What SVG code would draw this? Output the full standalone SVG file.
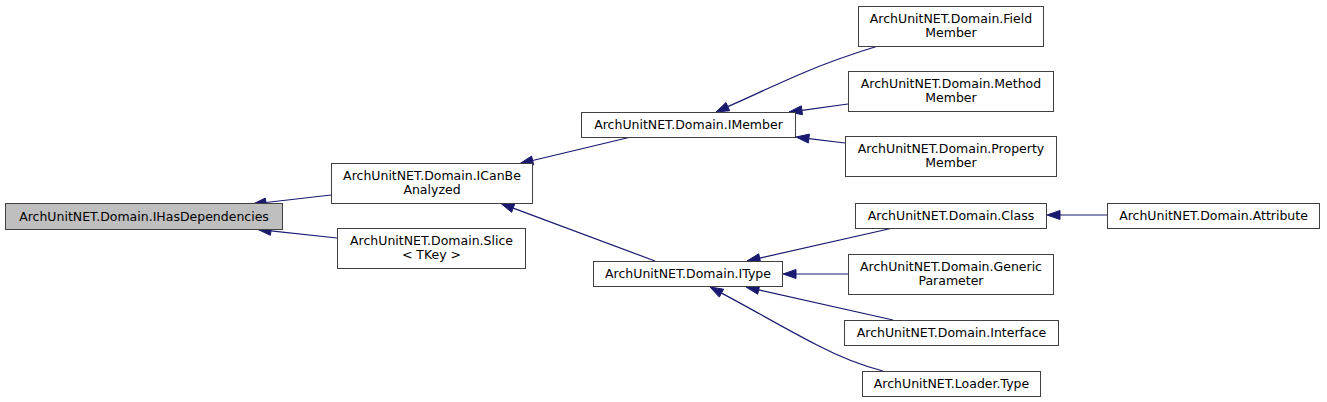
<svg xmlns="http://www.w3.org/2000/svg" width="1327" height="402" viewBox="0 0 1327 402">
<style>
.n rect{fill:#fff;stroke:#404040;stroke-width:1}
.n rect.root{fill:#bfbfbf}
.n text{font-family:"DejaVu Sans","Liberation Sans",sans-serif;font-size:12.5px;fill:#000;text-anchor:middle}
.e path{fill:none;stroke:#191970;stroke-width:1.2}
.e polygon{fill:#191970;stroke:#191970;stroke-width:1}
</style>
<rect width="1327" height="402" fill="#fff"/>
<g id="connectors" class="e">
<path d="M331,195 L265.9,202.5"/><polygon points="253,204 265.40,198.04 266.43,206.98"/>
<path d="M337,238 L270.9,230.9"/><polygon points="258,229.5 271.41,226.42 270.44,235.36"/>
<path d="M631,137 L532.6,160.5"/><polygon points="520,163.5 531.60,156.10 533.69,164.86"/>
<path d="M655,261 L513.2,208.1"/><polygon points="501,203.5 514.75,203.83 511.61,212.27"/>
<path d="M878,46 C852,54 826,63 803,73 C777,84 752,96 727.8,106.6"/><polygon points="716,112 725.98,102.52 729.70,110.72"/>
<path d="M848,104 L801.9,110.3"/><polygon points="789,112 801.28,105.79 802.49,114.71"/>
<path d="M845,143 L808.9,138.6"/><polygon points="796,137 809.45,134.11 808.35,143.05"/>
<path d="M893,228 L759.7,258.1"/><polygon points="747,261 758.69,253.74 760.67,262.52"/>
<path d="M848,274 L796,274"/><polygon points="783,274 796,269.5 796,278.5"/>
<path d="M893,320 L758.7,289.9"/><polygon points="746,287 759.67,285.46 757.70,294.24"/>
<path d="M883,371 C860,365 838,356 817,345 C782,327 750,308 721.5,293.1"/><polygon points="710,287 723.57,289.18 719.33,297.11"/>
<path d="M1107,215 L1060,215"/><polygon points="1047,215 1060,210.5 1060,219.5"/>
</g>
<g id="IHasDependencies" class="n"><rect class="root" x="5.5" y="203.5" width="277" height="26"/><text x="144" y="220.5">ArchUnitNET.Domain.IHasDependencies</text></g>
<g id="ICanBeAnalyzed" class="n"><rect x="331.5" y="163.5" width="201" height="40"/><text x="432" y="180">ArchUnitNET.Domain.ICanBe</text><text x="432" y="194">Analyzed</text></g>
<g id="Slice" class="n"><rect x="337.5" y="228.5" width="188" height="40"/><text x="431.5" y="245">ArchUnitNET.Domain.Slice</text><text x="431.5" y="259">&lt; TKey &gt;</text></g>
<g id="IMember" class="n"><rect x="581.5" y="112.5" width="214" height="25"/><text x="688.5" y="128.5">ArchUnitNET.Domain.IMember</text></g>
<g id="FieldMember" class="n"><rect x="858.5" y="6.5" width="185" height="40"/><text x="951" y="23">ArchUnitNET.Domain.Field</text><text x="951" y="37">Member</text></g>
<g id="MethodMember" class="n"><rect x="848.5" y="71.5" width="205" height="40"/><text x="951" y="88">ArchUnitNET.Domain.Method</text><text x="951" y="102">Member</text></g>
<g id="PropertyMember" class="n"><rect x="845.5" y="136.5" width="211" height="40"/><text x="951" y="153">ArchUnitNET.Domain.Property</text><text x="951" y="167">Member</text></g>
<g id="IType" class="n"><rect x="593.5" y="261.5" width="189" height="25"/><text x="688" y="278">ArchUnitNET.Domain.IType</text></g>
<g id="Class" class="n"><rect x="855.5" y="203.5" width="191" height="25"/><text x="951" y="219.5">ArchUnitNET.Domain.Class</text></g>
<g id="GenericParameter" class="n"><rect x="848.5" y="254.5" width="205" height="40"/><text x="951" y="271">ArchUnitNET.Domain.Generic</text><text x="951" y="285">Parameter</text></g>
<g id="Interface" class="n"><rect x="844.5" y="320.5" width="214" height="25"/><text x="951.5" y="336.5">ArchUnitNET.Domain.Interface</text></g>
<g id="LoaderType" class="n"><rect x="862.5" y="371.5" width="178" height="25"/><text x="951.5" y="387.5">ArchUnitNET.Loader.Type</text></g>
<g id="Attribute" class="n"><rect x="1107.5" y="203.5" width="212" height="25"/><text x="1213.5" y="219.5">ArchUnitNET.Domain.Attribute</text></g>
</svg>
